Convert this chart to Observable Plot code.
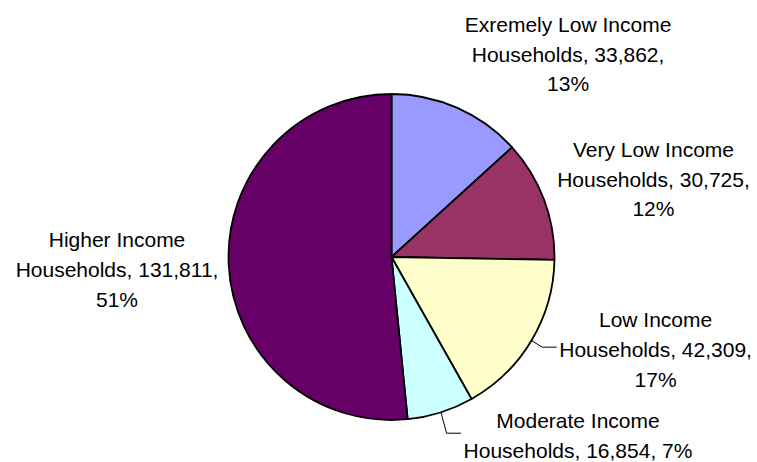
<!DOCTYPE html>
<html>
<head>
<meta charset="utf-8">
<script src="https://cdn.jsdelivr.net/npm/d3@7"></script>
<script src="https://cdn.jsdelivr.net/npm/@observablehq/plot@0.6"></script>
<style>
  html, body { margin: 0; padding: 0; background: #fff; }
  #chart { width: 757px; height: 462px; }
</style>
</head>
<body>
<div id="chart"></div>
<script>
// ---- data ----
const categories = [
  "Exremely Low Income Households",
  "Very Low Income Households",
  "Low Income Households",
  "Moderate Income Households",
  "Higher Income Households"
];
const households = [33862, 30725, 42309, 16854, 131811];
const percentLabels = ["13%", "12%", "17%", "7%", "51%"];
const labelLines = [
  ["Exremely Low Income", "Households, 33,862,", "13%"],
  ["Very Low Income", "Households, 30,725,", "12%"],
  ["Low Income", "Households, 42,309,", "17%"],
  ["Moderate Income", "Households, 16,854, 7%"],
  ["Higher Income", "Households, 131,811,", "51%"]
];
const sliceColors = ["#9999FF", "#993366", "#FFFFCC", "#CCFFFF", "#660066"];

// ---- layout (label centres in pie-radius units, leader flags) ----
const labelX = [1.080, 1.604, 1.617, 1.141, -1.687];
const labelY = [1.260, 0.494, -0.550, -1.078, -0.060];
const hasLeader = [false, false, true, true, false];

const W = 757, H = 462;
const R = 163, CX = 391.5, CY = 257;   // pixel radius and centre
const FONT = "'Liberation Sans', Arial, sans-serif";
const FONT_SIZE = 21;

const pieArcs = d3.pie().sort(null).value(d => d)(households);

// label table
const labels = categories.map((c, i) => ({
  category: c,
  text: labelLines[i].join("\n"),
  x: labelX[i],
  y: labelY[i]
}));

// text width measurement for leader end points
const ctx = document.createElement("canvas").getContext("2d");
ctx.font = `${FONT_SIZE}px ${FONT}`;

const leaderPts = [];
categories.forEach((c, i) => {
  if (!hasLeader[i]) return;
  const a = (pieArcs[i].startAngle + pieArcs[i].endAngle) / 2;
  const halfW = d3.max(labelLines[i], s => ctx.measureText(s).width) / 2;
  const endX = labelX[i] - (halfW + 3) / R;
  const endY = labelY[i];
  leaderPts.push({category: c, x: Math.sin(a), y: Math.cos(a)});
  leaderPts.push({category: c, x: endX - 14 / R, y: endY});
  leaderPts.push({category: c, x: endX, y: endY});
});

function pieMark(index, scales) {
  const cx = scales.x(0), cy = scales.y(0);
  const r = scales.x(1) - scales.x(0);
  const arc = d3.arc().innerRadius(0).outerRadius(r);
  const g = d3.create("svg:g").attr("transform", `translate(${cx},${cy})`);
  g.selectAll("path")
    .data(pieArcs)
    .join("path")
    .attr("d", arc)
    .attr("fill", (d, i) => scales.color(categories[i]))
    .attr("stroke", "#000")
    .attr("stroke-width", 1.8)
    .attr("stroke-linejoin", "round");
  return g.node();
}

const chart = Plot.plot({
  width: W,
  height: H,
  margin: 0,
  style: {fontFamily: FONT, background: "#fff", color: "#000"},
  x: {domain: [-CX / R, (W - CX) / R], range: [0, W], axis: null},
  y: {domain: [-(H - CY) / R, CY / R], range: [H, 0], axis: null},
  color: {domain: categories, range: sliceColors},
  marks: [
    pieMark,
    Plot.line(leaderPts, {x: "x", y: "y", z: "category", stroke: "#000", strokeWidth: 1}),
    Plot.text(labels, {
      x: "x", y: "y", text: "text",
      fontSize: FONT_SIZE, lineHeight: 1.42, lineAnchor: "middle",
      textAnchor: "middle", fill: "#000"
    })
  ]
});
document.getElementById("chart").appendChild(chart);
</script>
</body>
</html>
